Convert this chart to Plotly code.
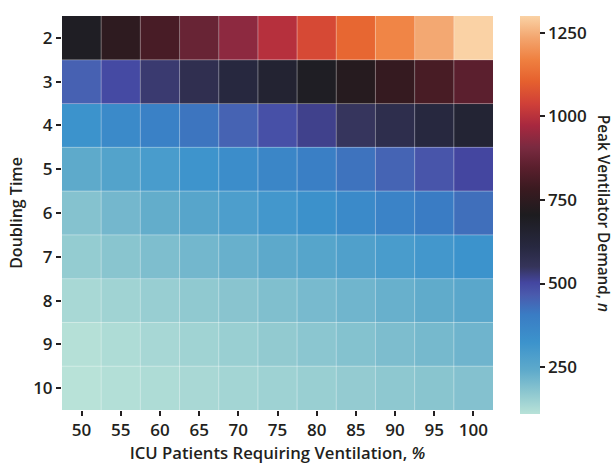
import plotly.graph_objects as go

icu_pct = [50, 55, 60, 65, 70, 75, 80, 85, 90, 95, 100]
doubling_time = [2, 3, 4, 5, 6, 7, 8, 9, 10]
x_labels = [str(v) for v in icu_pct]
y_labels = [str(v) for v in doubling_time]
colorbar_ticks = [250, 500, 750, 1000, 1250]

row_2 = [690, 750, 812, 873, 934, 995, 1056, 1117, 1178, 1239, 1300]
row_3 = [455, 495, 535, 573, 612, 650, 690, 730, 770, 810, 850]
row_4 = [324, 356, 388, 420, 452, 484, 516, 548, 580, 612, 645]
row_5 = [241, 267, 293, 319, 345, 372, 398, 424, 450, 476, 503]
row_6 = [185, 210, 234, 259, 283, 308, 332, 357, 381, 406, 430]
row_7 = [163, 179, 195, 211, 227, 244, 260, 276, 292, 308, 325]
row_8 = [134, 146, 157, 169, 180, 192, 204, 215, 227, 238, 250]
row_9 = [115, 125, 135, 146, 156, 166, 176, 186, 197, 207, 217]
row_10 = [110, 118, 125, 133, 141, 149, 156, 164, 172, 179, 187]
z_values = [row_2, row_3, row_4, row_5, row_6, row_7, row_8, row_9, row_10]

colorscale = [
    [0.0, "#b8e2d8"], [0.05, "#90c9d0"], [0.11, "#5eaacb"], [0.18, "#3c93cc"],
    [0.25, "#3a7cc4"], [0.30, "#4a5aad"], [0.33, "#4446a0"], [0.37, "#35345a"],
    [0.42, "#272840"], [0.50, "#1d1c1f"], [0.565, "#3a1a20"], [0.62, "#5a1f2d"],
    [0.67, "#7a2a40"], [0.725, "#a8283f"], [0.78, "#d04038"], [0.835, "#e5602e"],
    [0.89, "#ef8040"], [0.945, "#f3a56e"], [1.0, "#fad2a5"],
]

font_family = "Open Sans"
text_color = "#231f20"

fig = go.Figure(go.Heatmap(
    x=x_labels, y=y_labels, z=z_values,
    colorscale=colorscale, zmin=110, zmax=1300,
    colorbar=dict(
        x=1.0626, xanchor="left", xref="paper", xpad=0, ypad=0,
        y=0.495, yanchor="middle", len=1.01, lenmode="fraction",
        thickness=20, outlinewidth=0,
        tickvals=colorbar_ticks,
        ticks="outside", ticklen=5, tickcolor=text_color, tickwidth=1.5,
        tickfont=dict(family=font_family, size=17, color=text_color, weight=600),
    ),
    hoverinfo="skip",
))

# subtle translucent cell separators
grid_color = "rgba(255,255,255,0.38)"
shapes = []
for i in range(1, len(icu_pct)):
    shapes.append(dict(type="line", xref="x", yref="paper", x0=i - 0.5, x1=i - 0.5,
                       y0=0, y1=1, line=dict(color=grid_color, width=1)))
for j in range(1, len(doubling_time)):
    shapes.append(dict(type="line", xref="paper", yref="y", y0=j - 0.5, y1=j - 0.5,
                       x0=0, x1=1, line=dict(color=grid_color, width=1)))

fig.update_layout(
    width=615, height=464,
    margin=dict(l=62, r=122, t=16, b=54, autoexpand=False),
    paper_bgcolor="white", plot_bgcolor="white",
    font=dict(family=font_family, color=text_color),
    shapes=shapes,
    xaxis=dict(
        type="category", showgrid=False, zeroline=False,
        ticks="outside", ticklen=5, tickcolor=text_color, tickwidth=1.5,
        tickfont=dict(family=font_family, size=17, color=text_color, weight=600),
        title=dict(text="ICU Patients Requiring Ventilation, <i>%</i>", standoff=8,
                   font=dict(family=font_family, size=16.7, color=text_color, weight=600)),
    ),
    yaxis=dict(
        type="category", autorange="reversed", showgrid=False, zeroline=False,
        ticks="outside", ticklen=5, tickcolor=text_color, tickwidth=1.5,
        tickfont=dict(family=font_family, size=17, color=text_color, weight=600),
        title=dict(text="Doubling Time", standoff=6,
                   font=dict(family=font_family, size=16, color=text_color, weight=600)),
    ),
    annotations=[dict(
        text="Peak Ventilator Demand, <i>n</i>", textangle=90,
        xref="paper", yref="paper", x=1.258, y=0.50,
        xanchor="center", yanchor="middle", showarrow=False,
        font=dict(family=font_family, size=15.3, color=text_color, weight=600),
    )],
)

# remove the default page margin so the 615x464 figure fills the window exactly
fig.write_html("out.html",
               config={"displayModeBar": False},
               post_script="document.body.style.margin='0';document.body.style.overflow='hidden';")
